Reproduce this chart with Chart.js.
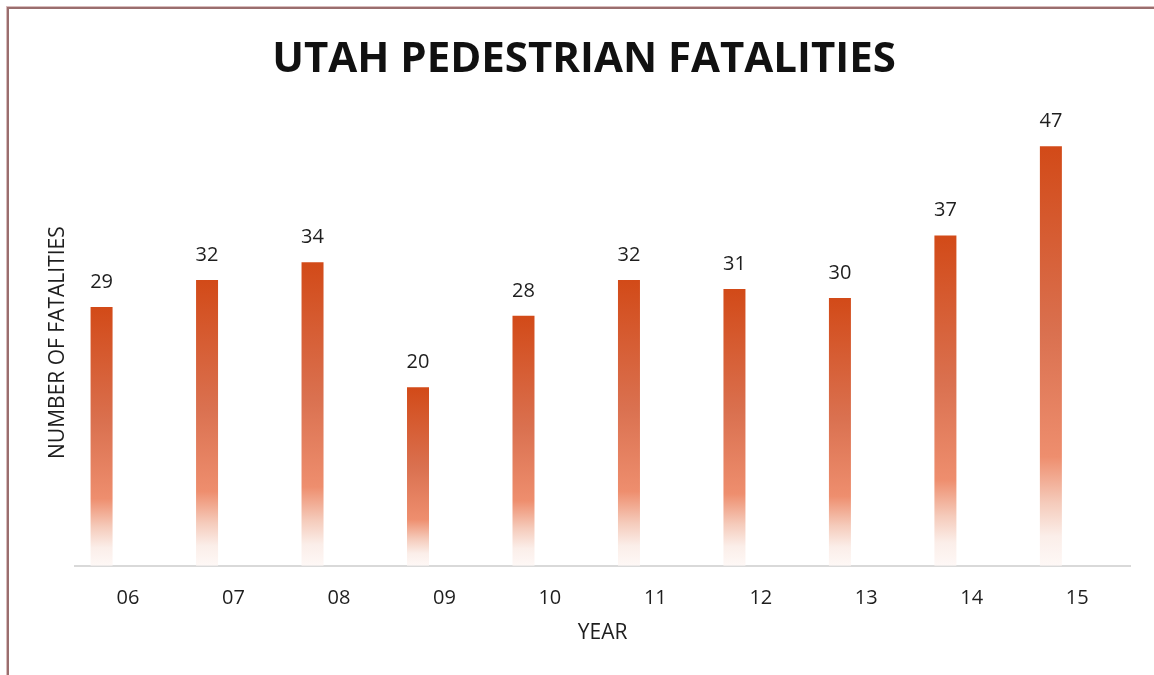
<!DOCTYPE html>
<html>
<head>
<meta charset="utf-8">
<title>Utah Pedestrian Fatalities</title>
<script src="https://cdn.jsdelivr.net/npm/chart.js@4/dist/chart.umd.min.js"></script>
<style>
  html, body { margin: 0; padding: 0; background: #fff; }
  #wrap { position: relative; width: 1154px; height: 675px; overflow: hidden; }
  #frame {
    position: absolute; left: 7px; top: 7px; width: 1200px; height: 700px;
    border-left: 2px solid #9a6e6e; border-top: 2px solid #9a6e6e;
    box-shadow: -1px -1px 0 #d9bcbc;
  }
  canvas { position: absolute; left: 0; top: 0; }
</style>
</head>
<body>
<div id="wrap">
  <div id="frame"></div>
  <canvas id="chart" width="1154" height="675"></canvas>
</div>
<script>
const years = ["06", "07", "08", "09", "10", "11", "12", "13", "14", "15"];
const fatalities = [29, 32, 34, 20, 28, 32, 31, 30, 37, 47];
// second series has no values; it only keeps its slot beside each bar
const blankSeries = [null, null, null, null, null, null, null, null, null, null];

const FONT = "'Open Sans', 'DejaVu Sans', sans-serif";

// each bar fades from deep orange at its top to near white at its base
function barGradient(ctx) {
  const chart = ctx.chart;
  if (!chart.chartArea || ctx.raw == null) return "#d24a18";
  const y = chart.scales.y;
  const top = y.getPixelForValue(ctx.raw);
  const base = y.getPixelForValue(0);
  const g = chart.ctx.createLinearGradient(0, top, 0, base);
  g.addColorStop(0, "#d24a18");
  g.addColorStop(0.45, "#da7150");
  g.addColorStop(0.74, "#ee8e6e");
  g.addColorStop(0.85, "#f5cbbb");
  g.addColorStop(0.93, "#fbeee9");
  g.addColorStop(1, "#fef8f6");
  return g;
}

const valueLabels = {
  id: "valueLabels",
  afterDatasetsDraw(chart) {
    const c = chart.ctx;
    const meta = chart.getDatasetMeta(0);
    c.save();
    c.font = "20px " + FONT;
    c.fillStyle = "#1e1e1e";
    c.textAlign = "center";
    c.textBaseline = "middle";
    meta.data.forEach((bar, i) => {
      c.fillText(String(fatalities[i]), bar.x, bar.y - 25);
    });
    c.restore();
  }
};

new Chart(document.getElementById("chart"), {
  type: "bar",
  data: {
    labels: years,
    datasets: [{
      label: "Fatalities",
      data: fatalities,
      backgroundColor: barGradient,
      borderWidth: 0,
      categoryPercentage: 1,
      barPercentage: 0.417
    }, {
      label: "",
      data: blankSeries,
      backgroundColor: "rgba(0,0,0,0)",
      borderWidth: 0,
      categoryPercentage: 1,
      barPercentage: 0.417
    }]
  },
  options: {
    responsive: false,
    animation: false,
    layout: { padding: { left: 38, right: 24, top: 0, bottom: 29 } },
    plugins: {
      legend: { display: false },
      tooltip: { enabled: false },
      title: {
        display: true,
        text: "UTAH PEDESTRIAN FATALITIES",
        color: "#111",
        font: { family: FONT, size: 42, weight: "bold", lineHeight: 1.2 },
        padding: { top: 35, bottom: 34 }
      }
    },
    scales: {
      x: {
        grid: { display: false, drawTicks: false },
        border: { display: true, color: "#d9d9d9", width: 2 },
        ticks: { color: "#1e1e1e", font: { family: FONT, size: 20 }, padding: 20 },
        title: {
          display: true,
          text: "YEAR",
          color: "#1e1e1e",
          font: { family: FONT, size: 21 },
          padding: { top: -9, bottom: 0 }
        }
      },
      y: {
        min: 0,
        max: 50,
        grid: { display: false, drawTicks: false },
        border: { display: false },
        ticks: { display: false },
        title: {
          display: true,
          text: "NUMBER OF FATALITIES",
          color: "#1e1e1e",
          font: { family: FONT, size: 21 },
          padding: { top: 7, bottom: 5 }
        }
      }
    }
  },
  plugins: [valueLabels]
});
</script>
</body>
</html>
